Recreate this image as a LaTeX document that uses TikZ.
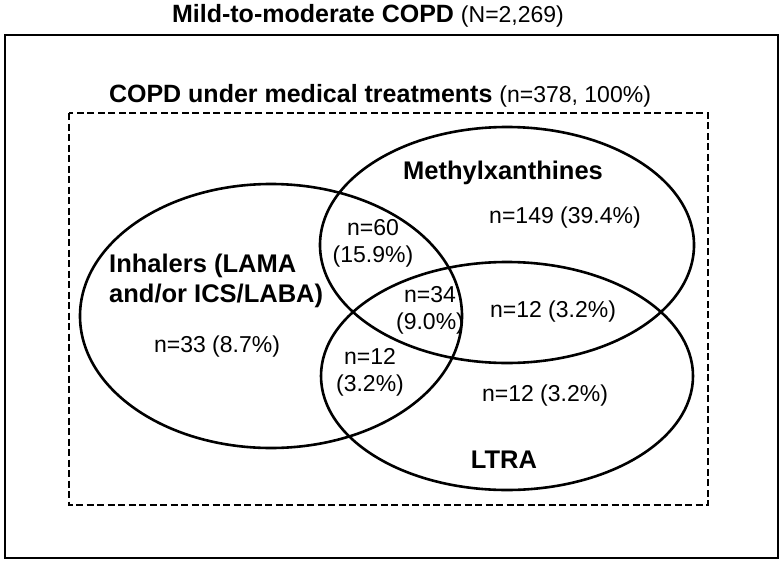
\documentclass[tikz,border=0pt]{standalone}
\usepackage{fontspec}
\setmainfont{Liberation Sans}
\usetikzlibrary{shapes.geometric}

\begin{document}
\begin{tikzpicture}[
    x=1pt, y=-1pt,
    conjunto/.style={ellipse, draw, line width=2.6pt, inner sep=0pt},
    titulo/.style={font=\fontsize{25}{29}\selectfont, inner sep=0pt},
    rotulo/.style={font=\bfseries\fontsize{25.5}{30}\selectfont, inner sep=0pt},
    cifra/.style={align=center, font=\fontsize{23}{27}\selectfont, inner sep=0pt}
]
\useasboundingbox (0,0) rectangle (784,562);

% Marcos
\draw[line width=2pt] (5,35) rectangle (778,558);
\draw[line width=2pt, dash pattern=on 7pt off 3.5pt] (69,113) rectangle (708,505);

\node[titulo] (total) at (368,16)
    {\textbf{Mild-to-moderate COPD} {\fontsize{23}{28}\selectfont(N=2,269)}};
\node[titulo] (trat) at (380,96)
    {\textbf{COPD under medical treatments} {\fontsize{23}{28}\selectfont(n=378, 100\%)}};

% Conjuntos
\node[conjunto, minimum width=382pt, minimum height=264pt] (inh)  at (271,316) {};
\node[conjunto, minimum width=374pt, minimum height=236pt] (meth) at (507,245) {};
\node[conjunto, minimum width=372pt, minimum height=228pt] (ltra) at (507,376) {};

% Etiquetas
\node[rotulo] (methlab) at (503,173) {Methylxanthines};
\node[rotulo, align=left, anchor=west] (inhlab) at (109,281)
    {Inhalers (LAMA\\and/or ICS/LABA)};
\node[rotulo] (ltralab) at (504,460) {LTRA};

% Cifras
\node[cifra] (nmeth)  at (565,218) {n=149 (39.4\%)};
\node[cifra] (ninhm)  at (373,243) {n=60\\(15.9\%)};
\node[cifra] (ninh)   at (217,347) {n=33 (8.7\%)};
\node[cifra] (ntodos) at (430,310) {n=34\\(9.0\%)};
\node[cifra] (nmetl)  at (553,312) {n=12 (3.2\%)};
\node[cifra] (ninhl)  at (370,372) {n=12\\(3.2\%)};
\node[cifra] (nltra)  at (545,396) {n=12 (3.2\%)};

\end{tikzpicture}
\end{document}
